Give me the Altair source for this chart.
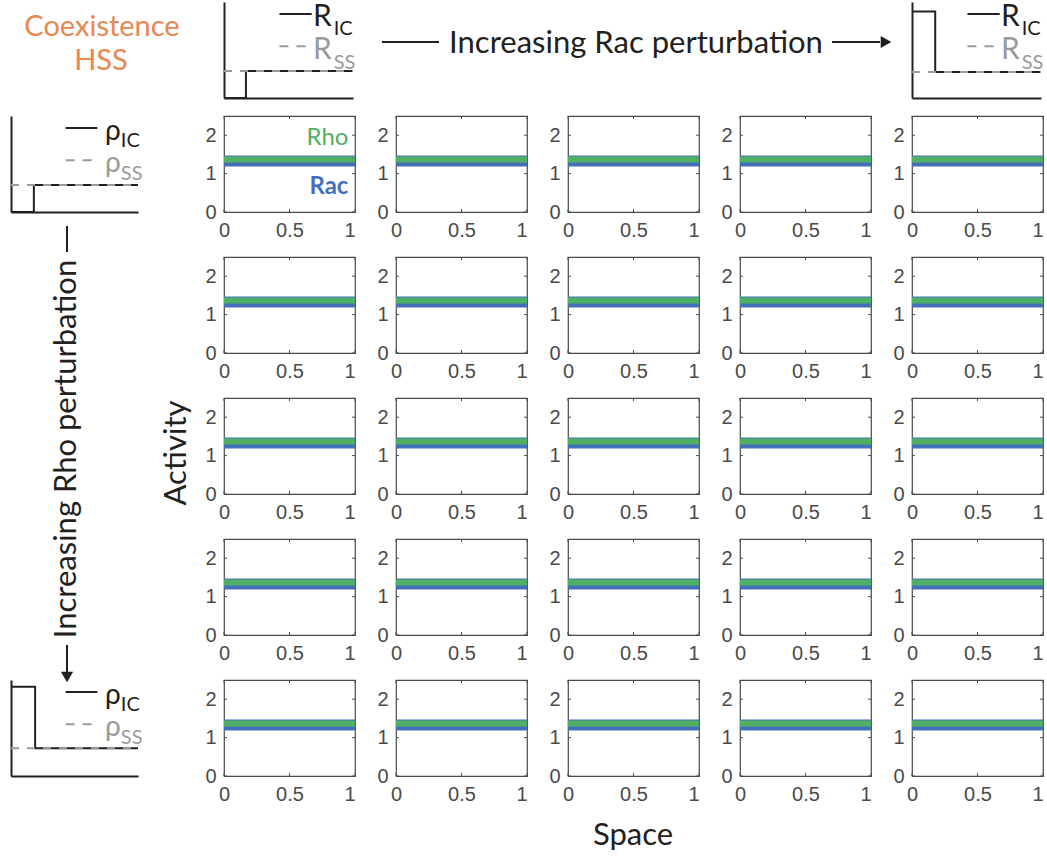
import altair as alt
import pandas as pd

# ---------------- data ----------------
space = [0.0, 1.0]
rac_activity = [
    [1.33, 1.33, 1.33, 1.33, 1.33],
    [1.33, 1.33, 1.33, 1.33, 1.33],
    [1.33, 1.33, 1.33, 1.33, 1.33],
    [1.33, 1.33, 1.33, 1.33, 1.33],
    [1.33, 1.33, 1.33, 1.33, 1.33],
]
rho_activity = [
    [1.37, 1.37, 1.37, 1.37, 1.37],
    [1.37, 1.37, 1.37, 1.37, 1.37],
    [1.37, 1.37, 1.37, 1.37, 1.37],
    [1.37, 1.37, 1.37, 1.37, 1.37],
    [1.37, 1.37, 1.37, 1.37, 1.37],
]
x_tick_values = [0, 0.5, 1]
y_tick_values = [0, 1, 2]
x_domain = [0, 1]
y_domain = [0, 2.5]
species_labels = ["Rho", "Rac"]
species_label_x = [0.95, 0.95]
species_label_y = [1.94, 0.66]

# inset sketches of the initial condition (normalised units)
rac_low_x = [0, 0.17, 0.17, 1]
rac_low_y = [0, 0, 0.28, 0.28]
rac_high_x = [0, 0.18, 0.18, 1]
rac_high_y = [0.9, 0.9, 0.27, 0.27]
rho_low_x = [0, 0.18, 0.18, 1]
rho_low_y = [0, 0, 0.28, 0.28]
rho_high_x = [0, 0.19, 0.19, 1]
rho_high_y = [0.93, 0.93, 0.29, 0.29]
legend_x = [0.43, 0.68]
legend_y = [0.875, 0.54]
legend_subs = ["IC", "SS"]

corner_lines = ["Coexistence", "HSS"]
rac_title = ["Increasing Rac perturbation"]
rho_title = ["Increasing Rho perturbation"]
y_title = ["Activity"]
x_title = ["Space"]

# ---------------- style ----------------
BLUE = "#4470BA"
GREEN = "#4FAF62"
BLACK = "#231f20"
GRAY = "#9a9a9a"
ORANGE = "#E8874F"
AXC = "#4a4a4a"
FONT = "Lato"
TFONT = "Liberation Sans"
PW, PH = 131, 96

XS = alt.Scale(domain=x_domain, nice=False, zero=False)
YS = alt.Scale(domain=y_domain, nice=False, zero=False)
x_axis = alt.Axis(values=x_tick_values, format="~g", title=None, domain=False, ticks=False,
                  tickSize=0, grid=False, labelFont=TFONT, labelFontSize=20, labelColor=AXC,
                  labelPadding=8, labelFlush=False, minExtent=0,
                  labelAlign=alt.condition("datum.value == 1", alt.value("right"), alt.value("center")))
y_axis = alt.Axis(values=y_tick_values, format="~g", title=None, domain=False, ticks=False,
                  tickSize=0, grid=False, labelFont=TFONT, labelFontSize=20, labelColor=AXC,
                  labelPadding=8, minExtent=0)

# inward ticks (MATLAB style box)
TLX = 3.0 / PW * (x_domain[1] - x_domain[0])
TLY = 3.0 / PH * (y_domain[1] - y_domain[0])
tick_rows = []
for v in x_tick_values:
    tick_rows.append({"x": v, "x2": v, "y": y_domain[0], "y2": y_domain[0] + TLY})
    tick_rows.append({"x": v, "x2": v, "y": y_domain[1], "y2": y_domain[1] - TLY})
for v in y_tick_values:
    tick_rows.append({"x": x_domain[0], "x2": x_domain[0] + TLX, "y": v, "y2": v})
    tick_rows.append({"x": x_domain[1], "x2": x_domain[1] - TLX, "y": v, "y2": v})
tick_df = pd.DataFrame(tick_rows)


def enc_x():
    return alt.X("x:Q", scale=XS, axis=x_axis)


def enc_y():
    return alt.Y("y:Q", scale=YS, axis=y_axis)


def panel(r, c):
    rac_df = pd.DataFrame({"x": space, "y": [rac_activity[r][c]] * len(space)})
    rho_df = pd.DataFrame({"x": space, "y": [rho_activity[r][c]] * len(space)})
    rac = alt.Chart(rac_df).mark_line(color=BLUE, strokeWidth=11, strokeCap="butt").encode(x=enc_x(), y=enc_y())
    rho = alt.Chart(rho_df).mark_line(color=GREEN, strokeWidth=6, strokeCap="butt").encode(x=enc_x(), y=enc_y())
    ticks = alt.Chart(tick_df).mark_rule(color=AXC, strokeWidth=1).encode(
        x=enc_x(), x2="x2:Q", y=enc_y(), y2="y2:Q")
    layers = [rac, rho, ticks]
    if r == 0 and c == 0:
        lab_rho = pd.DataFrame({"x": [species_label_x[0]], "y": [species_label_y[0]], "t": [species_labels[0]]})
        lab_rac = pd.DataFrame({"x": [species_label_x[1]], "y": [species_label_y[1]], "t": [species_labels[1]]})
        layers.append(alt.Chart(lab_rho).mark_text(align="right", baseline="middle", font=FONT, fontSize=24,
                                                   color=GREEN).encode(x=enc_x(), y=enc_y(), text="t:N"))
        layers.append(alt.Chart(lab_rac).mark_text(align="right", baseline="middle", font=FONT, fontSize=24,
                                                   fontWeight="bold", color=BLUE).encode(x=enc_x(), y=enc_y(), text="t:N"))
    return alt.layer(*layers).properties(width=PW, height=PH,
                                         view=alt.ViewBackground(stroke=AXC, strokeWidth=1.2))


IXS = alt.Scale(domain=[0, 1], nice=False, zero=False)
IYS = alt.Scale(domain=[0, 1], nice=False, zero=False)
i_axis = alt.Axis(title=None, labels=False, ticks=False, grid=False, domain=True,
                  domainColor=BLACK, domainWidth=2, minExtent=0)


def inset(sx, sy, sym, w, sym_x, sym_base, sub_x, sub_base, sym_size):
    ix = alt.X("x:Q", scale=IXS, axis=i_axis)
    iy = alt.Y("y:Q", scale=IYS, axis=i_axis)
    step_df = pd.DataFrame({"x": sx, "y": sy, "i": list(range(len(sx)))})
    ss = sy[-1]
    ss_df = pd.DataFrame({"x": [0, 1], "y": [ss, ss]})
    leg_ic = pd.DataFrame({"x": [legend_x[0]], "x2": [legend_x[1]], "y": [legend_y[0]]})
    leg_ss = pd.DataFrame({"x": [legend_x[0]], "x2": [legend_x[1]], "y": [legend_y[1]]})
    sym_ic = pd.DataFrame({"x": [sym_x], "y": [sym_base[0]], "t": [sym]})
    sym_ss = pd.DataFrame({"x": [sym_x], "y": [sym_base[1]], "t": [sym]})
    sub_ic = pd.DataFrame({"x": [sub_x], "y": [sub_base[0]], "t": [legend_subs[0]]})
    sub_ss = pd.DataFrame({"x": [sub_x], "y": [sub_base[1]], "t": [legend_subs[1]]})
    layers = [
        alt.Chart(step_df).mark_line(color=BLACK, strokeWidth=2).encode(x=ix, y=iy, order=alt.Order("i:Q")),
        alt.Chart(ss_df).mark_line(color=GRAY, strokeWidth=2, strokeDash=[8, 8]).encode(x=ix, y=iy),
        alt.Chart(leg_ic).mark_rule(color=BLACK, strokeWidth=2).encode(x=ix, x2="x2:Q", y=iy),
        alt.Chart(leg_ss).mark_rule(color=GRAY, strokeWidth=2, strokeDash=[9, 8]).encode(x=ix, x2="x2:Q", y=iy),
        alt.Chart(sym_ic).mark_text(align="left", baseline="alphabetic", font=FONT, fontSize=sym_size,
                                    color=BLACK).encode(x=ix, y=iy, text="t:N"),
        alt.Chart(sym_ss).mark_text(align="left", baseline="alphabetic", font=FONT, fontSize=sym_size,
                                    color=GRAY).encode(x=ix, y=iy, text="t:N"),
        alt.Chart(sub_ic).mark_text(align="left", baseline="alphabetic", font=FONT, fontSize=20,
                                    color=BLACK).encode(x=ix, y=iy, text="t:N"),
        alt.Chart(sub_ss).mark_text(align="left", baseline="alphabetic", font=FONT, fontSize=20,
                                    color=GRAY).encode(x=ix, y=iy, text="t:N"),
    ]
    return alt.layer(*layers).properties(width=w, height=96)


one = pd.DataFrame({"k": [0]})
none_df = pd.DataFrame({"k": pd.Series([], dtype=float)})


def txt(s, x, y, size, color=BLACK, angle=0, weight="normal"):
    return alt.Chart(pd.DataFrame({"t": [s]})).mark_text(
        font=FONT, fontSize=size, color=color, angle=angle, align="center", baseline="middle",
        fontWeight=weight).encode(x=alt.value(x), y=alt.value(y), text="t:N")


def hline(x1, x2, y):
    return alt.Chart(one).mark_rule(color=BLACK, strokeWidth=2).encode(
        x=alt.value(x1), x2=alt.value(x2), y=alt.value(y))


def vline(x, y1, y2):
    return alt.Chart(one).mark_rule(color=BLACK, strokeWidth=2).encode(
        x=alt.value(x), y=alt.value(y1), y2=alt.value(y2))


def head(x, y, shape):
    return alt.Chart(one).mark_point(shape=shape, filled=True, size=150, color=BLACK, opacity=1,
                                     strokeWidth=0).encode(x=alt.value(x), y=alt.value(y))


def spacer(w=1, h=1):
    return alt.Chart(none_df).mark_point(opacity=0).encode(
        x=alt.value(0), y=alt.value(0)).properties(width=w, height=h)


coex = alt.layer(
    txt(corner_lines[0], 91, 25, 29, ORANGE),
    txt(corner_lines[1], 90, 59, 29, ORANGE),
).properties(width=127, height=96)

top_title = alt.layer(
    hline(-186, -129, 40),
    txt(rac_title[0], 68, 42, 31),
    hline(264, 312, 40),
    head(318, 40, "triangle-right"),
).properties(width=131, height=96)

left_title = alt.layer(
    vline(56, -172, -146),
    txt(rho_title[0], 56, 51, 31, angle=270),
    vline(56, 247, 274),
    head(56, 279, "triangle-down"),
).properties(width=127, height=96)

act = alt.layer(txt(y_title[0], -2, 55, 31, angle=270)).properties(width=4, height=96)
spc = alt.layer(txt(x_title[0], 65, 42, 31)).properties(width=131, height=48)

inset_rac_low = inset(rac_low_x, rac_low_y, "R", 129, 0.69, [0.75, 0.41], 0.85, [0.66, 0.30], 30)
inset_rac_high = inset(rac_high_x, rac_high_y, "R", 129, 0.69, [0.75, 0.41], 0.85, [0.66, 0.30], 30)
inset_rho_low = inset(rho_low_x, rho_low_y, "ρ", 127, 0.74, [0.75, 0.42], 0.865, [0.68, 0.33], 28)
inset_rho_high = inset(rho_high_x, rho_high_y, "ρ", 127, 0.74, [0.75, 0.42], 0.865, [0.68, 0.33], 28)

cells = []
# top row
cells += [coex, spacer(), inset_rac_low, spacer(), top_title, spacer(), inset_rac_high]
left_cells = {0: inset_rho_low, 2: left_title, 4: inset_rho_high}
for r in range(5):
    if r > 0:
        cells += [spacer(1, 9) for _ in range(7)]
    lc = left_cells.get(r, spacer())
    bc = act if r == 2 else spacer()
    cells += [lc, bc] + [panel(r, c) for c in range(5)]
cells += [spacer(), spacer(), spacer(), spacer(), spc, spacer(), spacer()]

chart = alt.concat(*cells, columns=7, spacing=alt.RowColnumber(row=18, column=41),
                   bounds="flush").properties(
    padding={"left": 6, "top": 1, "right": -19, "bottom": 9},
    background="white",
).configure_view(stroke="transparent")

chart.save("out.html", embed_options={"renderer": "svg", "actions": False})
